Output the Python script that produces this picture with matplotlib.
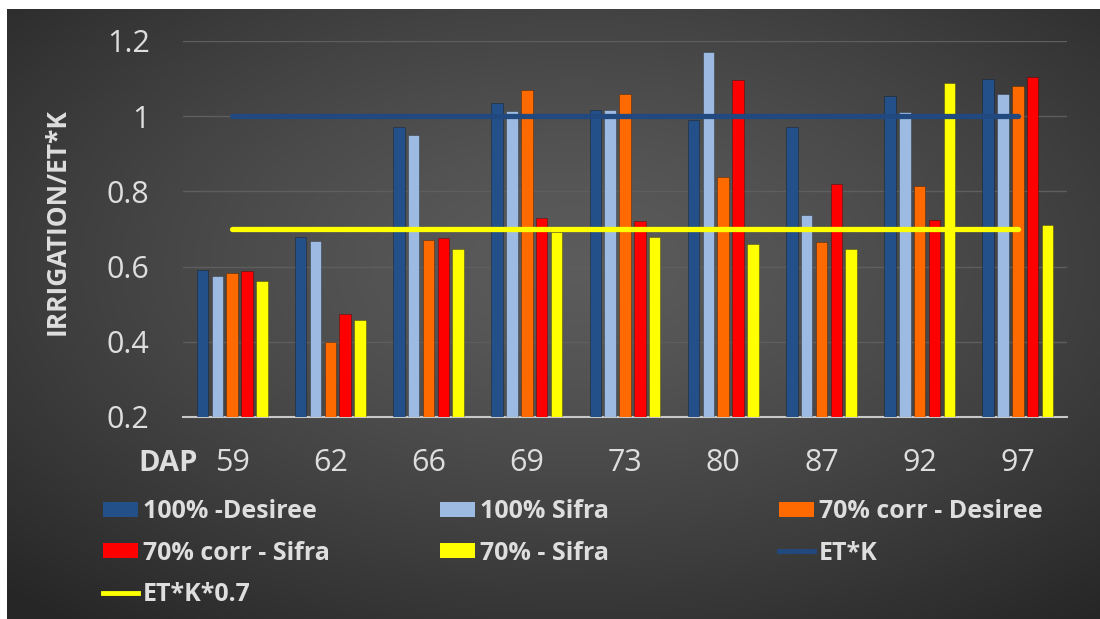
import numpy as np
import matplotlib.pyplot as plt
from matplotlib.lines import Line2D
from matplotlib.patches import Patch

# days after planting
dap = ['59', '62', '66', '69', '73', '80', '87', '92', '97']

desiree_100 = [0.59, 0.68, 0.97, 1.035, 1.017, 0.99, 0.97, 1.055, 1.098]
sifra_100 = [0.575, 0.667, 0.95, 1.015, 1.017, 1.172, 0.737, 1.011, 1.06]
desiree_70corr = [0.584, 0.40, 0.67, 1.07, 1.06, 0.837, 0.666, 0.814, 1.079]
sifra_70corr = [0.589, 0.473, 0.675, 0.728, 0.721, 1.095, 0.821, 0.723, 1.104]
sifra_70 = [0.561, 0.458, 0.646, 0.691, 0.679, 0.659, 0.648, 1.089, 0.71]
etk = [1.0, 1.0, 1.0, 1.0, 1.0, 1.0, 1.0, 1.0, 1.0]
etk_07 = [0.7, 0.7, 0.7, 0.7, 0.7, 0.7, 0.7, 0.7, 0.7]

bar_series = [
    ('100% -Desiree', desiree_100, '#24508a'),
    ('100% Sifra', sifra_100, '#9dbbe2'),
    ('70% corr - Desiree', desiree_70corr, '#ff6a00'),
    ('70% corr - Sifra', sifra_70corr, '#ff0000'),
    ('70% - Sifra', sifra_70, '#ffff00'),
]

txt = '#dedede'
W, H = 1100, 619
fig = plt.figure(figsize=(W / 100, H / 100), dpi=100, facecolor='white')

# dark radial background
bg = fig.add_axes([7 / W, 0, (W - 7) / W, (H - 9) / H])
yy, xx = np.mgrid[0:1:300j, 0:1:500j]
r = np.sqrt(((xx - 0.52) / 0.75) ** 2 + ((yy - 0.42) / 0.75) ** 2)
r = np.clip(r, 0, 1)
shade = 0.36 - 0.21 * r ** 1.3
bg.imshow(np.dstack([shade] * 3), extent=(0, 1, 0, 1), aspect='auto', origin='upper')
bg.axis('off')

ax = fig.add_axes([183 / W, 1 - 417 / H, 884 / W, 376 / H])
ax.patch.set_alpha(0)

x = np.arange(len(dap))
step, width = 0.151, 0.117
for i, (label, vals, color) in enumerate(bar_series):
    ax.bar(x + (i - 2) * step, vals, width=width, color=color,
           edgecolor='#00000055', linewidth=0.6, zorder=3)

ax.plot(x, etk, color='#22497f', lw=3.8, solid_capstyle='round', zorder=4)
ax.plot(x, etk_07, color='#ffff00', lw=3.8, solid_capstyle='round', zorder=4)

ax.set_xlim(-0.5, len(dap) - 0.5)
ax.set_ylim(0.2, 1.2)
ax.set_yticks([0.2, 0.4, 0.6, 0.8, 1.0, 1.2])
ax.set_yticklabels(['0.2', '0.4', '0.6', '0.8', '1', '1.2'])
ax.set_xticks(x)
ax.set_xticklabels(dap)
ax.tick_params(length=0, labelcolor=txt, labelsize=22)
for lab in ax.get_xticklabels() + ax.get_yticklabels():
    lab.set_family('Open Sans')
ax.tick_params(axis='x', pad=22)
ax.tick_params(axis='y', pad=24)
ax.yaxis.grid(True, color='#5e5e5e', lw=1)
ax.set_axisbelow(True)
for s in ['top', 'right', 'left']:
    ax.spines[s].set_visible(False)
ax.spines['bottom'].set_color('#c8c8c8')
ax.spines['bottom'].set_linewidth(1.5)

fig.text(57 / W, 1 - 222 / H, 'IRRIGATION/ET*K', rotation=90, ha='center', va='center',
         color=txt, fontsize=19, fontweight='bold', family='Open Sans')
# axis title sits on the tick-label row, left of the first category
ax.annotate('DAP', xy=(0, 0), xycoords=ax.get_xticklabels()[0], xytext=(-12, 0),
            textcoords='offset points', ha='right', va='bottom',
            color=txt, fontsize=21, fontweight='bold', family='Open Sans')

handles = [Patch(facecolor=c, edgecolor='none') for _, _, c in bar_series]
handles += [Line2D([], [], color='#22497f', lw=3.5), Line2D([], [], color='#ffff00', lw=3.5)]
labels = [s[0] for s in bar_series] + ['ET*K', 'ET*K*0.7']

columns = [([0, 3, 6], 103), ([1, 4], 440), ([2, 5], 779)]
for idx, xpos in columns:
    fig.legend([handles[k] for k in idx], [labels[k] for k in idx],
               loc='upper left', bbox_to_anchor=(xpos / W, 1 - 499 / H),
               frameon=False, labelcolor=txt, handlelength=1.4, handleheight=0.56,
               handletextpad=0.2, labelspacing=0.66, borderaxespad=0, borderpad=0,
               prop={'family': 'Open Sans', 'weight': 'bold', 'size': 18})

fig.savefig('out.png', dpi=100)
